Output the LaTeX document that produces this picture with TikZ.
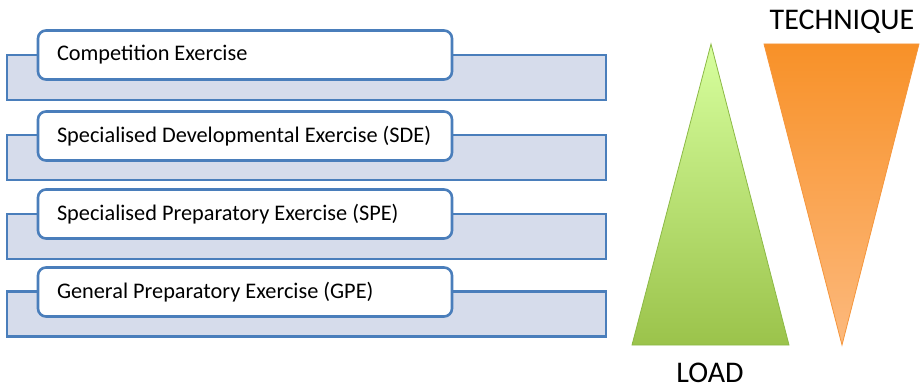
\documentclass[tikz,border=0pt]{standalone}
\usepackage{fontspec}
\setmainfont{Carlito}
\newcommand{\lbox}[1]{\makebox[376pt][l]{#1}}
\begin{document}
\begin{tikzpicture}[x=1pt,y=-1pt,
  backbar/.style={draw=blueedge,fill=bluefill,line width=2.4pt,minimum width=599pt,minimum height=45pt,inner sep=0pt},
  frontbox/.style={draw=blueedge,fill=white,line width=2.6pt,rounded corners=8pt,minimum width=414pt,minimum height=49pt,inner sep=0pt,font=\fontsize{22.3}{26}\selectfont},
  bigtext/.style={font=\fontsize{30}{34}\selectfont,inner sep=0pt}]
\definecolor{blueedge}{RGB}{74,126,187}
\definecolor{bluefill}{RGB}{214,220,235}
\definecolor{gtop}{RGB}{215,255,158}
\definecolor{gbot}{RGB}{155,195,75}
\definecolor{gedge}{RGB}{140,185,70}
\definecolor{otop}{RGB}{248,145,40}
\definecolor{obot}{RGB}{252,185,125}
\definecolor{oedge}{RGB}{245,150,60}
\useasboundingbox (0,0) rectangle (921,390);
% rows
\node[backbar] (b1) at (306.5,77.5) {};
\node[frontbox] (f1) at (245,55) {\lbox{Competition Exercise}};
\node[backbar] (b2) at (306.5,157.5) {};
\node[frontbox] (f2) at (245,136) {\lbox{Specialised Developmental Exercise (SDE)}};
\node[backbar] (b3) at (306.5,236.5) {};
\node[frontbox] (f3) at (245,214) {\lbox{Specialised Preparatory Exercise (SPE)}};
\node[backbar] (b4) at (306.5,314) {};
\node[frontbox] (f4) at (245,292) {\lbox{General Preparatory Exercise (GPE)}};
% triangles
\shade[top color=gtop,bottom color=gbot,draw=gedge,line width=0.8pt] (711,44) -- (789,345) -- (632,345) -- cycle;
\shade[top color=otop,bottom color=obot,draw=oedge,line width=0.8pt] (764,44) -- (919,44) -- (842,345) -- cycle;
\node[bigtext] (tech) at (842,22) {TECHNIQUE};
\node[bigtext] (load) at (710,373) {LOAD};
\end{tikzpicture}
\end{document}
